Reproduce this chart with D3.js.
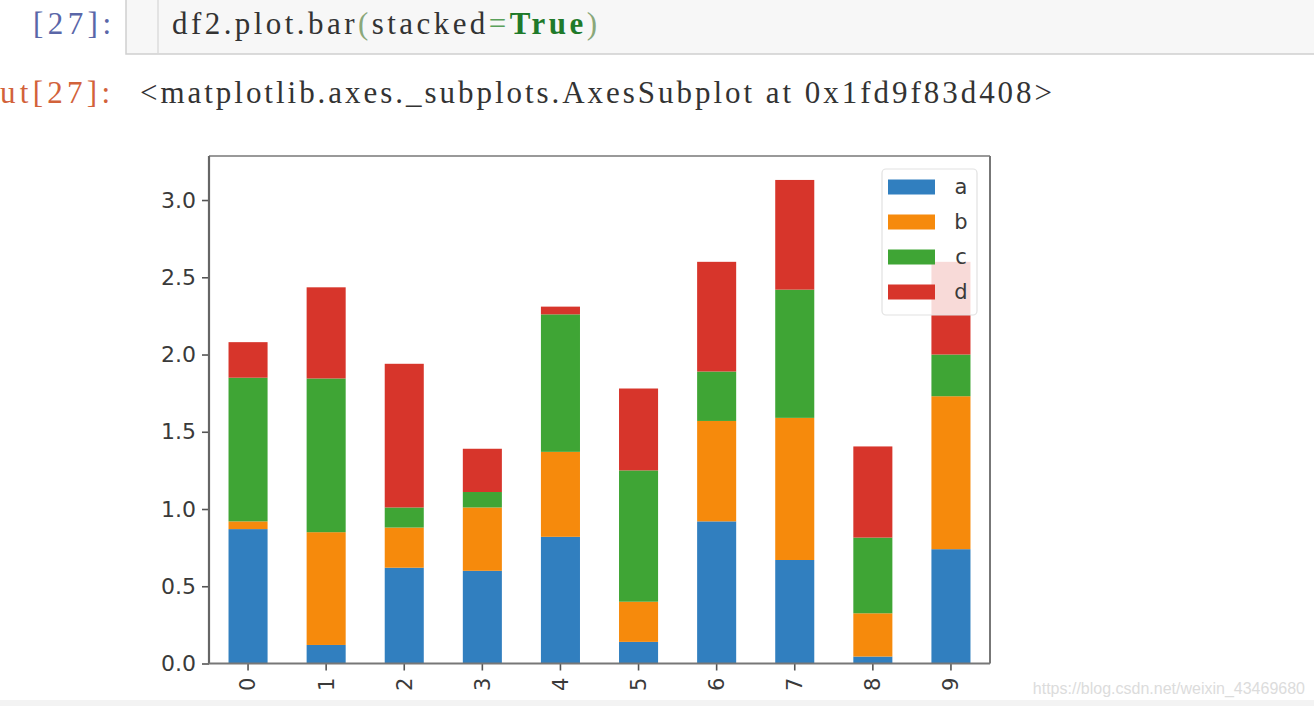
<!DOCTYPE html>
<html><head><meta charset="utf-8">
<script src="https://cdn.jsdelivr.net/npm/d3@7"></script>
<style>html,body{margin:0;padding:0;background:#fff;overflow:hidden}</style>
</head><body>
<svg id="c" width="1314" height="706"></svg>
<script>
const categories = ["0","1","2","3","4","5","6","7","8","9"];
const seriesNames = ["a","b","c","d"];
const aVals = [0.87, 0.12, 0.62, 0.60, 0.82, 0.14, 0.92, 0.67, 0.045, 0.74];
const bVals = [0.05, 0.73, 0.26, 0.41, 0.55, 0.26, 0.65, 0.92, 0.28, 0.99];
const cVals = [0.93, 0.995, 0.13, 0.10, 0.89, 0.85, 0.32, 0.83, 0.49, 0.27];
const dVals = [0.23, 0.59, 0.93, 0.28, 0.05, 0.53, 0.71, 0.71, 0.59, 0.60];
const yTicks = [0.0, 0.5, 1.0, 1.5, 2.0, 2.5, 3.0];
const colors = ["#317fbf", "#f68a0c", "#3fa535", "#d7352b"];

const rows = categories.map((k, i) => ({k, a: aVals[i], b: bVals[i], c: cVals[i], d: dVals[i]}));
const stacked = d3.stack().keys(seriesNames)(rows);

const svg = d3.select("#c");
const L = 209, R = 990, T = 156, B = 663.5;

// ---- notebook header ----
const g0 = svg.append("g");
g0.append("rect").attr("x", 126).attr("y", -4).attr("width", 1200).attr("height", 58)
  .attr("fill", "#f7f7f7").attr("stroke", "#cfcfcf").attr("stroke-width", 1.5);
g0.append("line").attr("x1", 158).attr("x2", 158).attr("y1", 0).attr("y2", 53)
  .attr("stroke", "#dcdcdc").attr("stroke-width", 1.5);
const serif = "'Liberation Serif', 'DejaVu Serif', serif";
const fs = 31;
g0.append("text").attr("x", 33).attr("y", 34).attr("font-family", serif).attr("font-size", fs)
  .attr("fill", "#5a66a8").attr("textLength", 78).attr("lengthAdjust", "spacing").text("[27]:");
const code = g0.append("text").attr("x", 172).attr("y", 34).attr("font-family", serif).attr("font-size", fs)
  .attr("textLength", 425).attr("lengthAdjust", "spacing");
code.append("tspan").attr("fill", "#333").text("df2.plot.bar");
code.append("tspan").attr("fill", "#8aa87a").text("(");
code.append("tspan").attr("fill", "#333").text("stacked");
code.append("tspan").attr("fill", "#5aa05a").text("=");
code.append("tspan").attr("fill", "#1f7a2a").attr("font-weight", "bold").text("True");
code.append("tspan").attr("fill", "#8aa87a").text(")");
g0.append("text").attr("x", 0).attr("y", 103).attr("font-family", serif).attr("font-size", fs)
  .attr("fill", "#d2623a").attr("textLength", 110).attr("lengthAdjust", "spacing").text("ut[27]:");
g0.append("text").attr("x", 140).attr("y", 103).attr("font-family", serif).attr("font-size", fs)
  .attr("fill", "#333").attr("textLength", 912).attr("lengthAdjust", "spacing")
  .text("<matplotlib.axes._subplots.AxesSubplot at 0x1fd9f83d408>");

// ---- chart ----
const x = d3.scaleBand().domain(categories).range([L, R]).paddingInner(0.5).paddingOuter(0.25);
const y = d3.scaleLinear().domain([0, 3.285]).range([B, T]);

const gb = svg.append("g");
gb.selectAll("g.s").data(stacked).join("g").attr("class", "s")
  .attr("fill", (d, i) => colors[i])
  .selectAll("rect").data(d => d).join("rect")
  .attr("x", d => x(d.data.k)).attr("width", x.bandwidth())
  .attr("y", d => y(d[1])).attr("height", d => y(d[0]) - y(d[1]));

const font = "'DejaVu Sans', sans-serif";
const yAxis = svg.append("g").attr("transform", `translate(${L},0)`)
  .call(d3.axisLeft(y).tickValues(yTicks).tickFormat(d3.format(".1f")).tickSize(7).tickPadding(6));
yAxis.select(".domain").remove();
yAxis.selectAll("line").attr("stroke", "#555").attr("stroke-width", 1.6);
yAxis.selectAll("text").attr("font-family", font).attr("font-size", 22).attr("fill", "#3a3a3a");

const xAxis = svg.append("g").attr("transform", `translate(0,${B})`)
  .call(d3.axisBottom(x).tickSize(7).tickPadding(6));
xAxis.select(".domain").remove();
xAxis.selectAll("line").attr("stroke", "#555").attr("stroke-width", 1.6);
xAxis.selectAll("text").attr("font-family", font).attr("font-size", 21).attr("fill", "#3a3a3a")
  .attr("transform", "rotate(-90)").attr("text-anchor", "end").attr("dy", "0.35em")
  .attr("x", -14).attr("y", 0);

// spines
svg.append("line").attr("x1", L).attr("x2", R).attr("y1", T).attr("y2", T).attr("stroke", "#999").attr("stroke-width", 2.2);
svg.append("line").attr("x1", R).attr("x2", R).attr("y1", T).attr("y2", B).attr("stroke", "#777").attr("stroke-width", 2);
svg.append("line").attr("x1", L).attr("x2", L).attr("y1", T).attr("y2", B).attr("stroke", "#666").attr("stroke-width", 2.2);
svg.append("line").attr("x1", L).attr("x2", R).attr("y1", B).attr("y2", B).attr("stroke", "#777").attr("stroke-width", 2.2);

// legend
const lg = svg.append("g");
lg.append("rect").attr("x", 882).attr("y", 169).attr("width", 95).attr("height", 146).attr("rx", 4)
  .attr("fill", "#fff").attr("fill-opacity", 0.82).attr("stroke", "#e2e2e2").attr("stroke-width", 1.2);
const ent = lg.selectAll("g.e").data(seriesNames).join("g").attr("class", "e")
  .attr("transform", (d, i) => `translate(888,${187 + i * 35})`);
ent.append("rect").attr("x", 0).attr("y", -7.5).attr("width", 47).attr("height", 15)
  .attr("fill", (d, i) => colors[i]);
ent.append("text").attr("x", 73).attr("y", 0).attr("dy", "0.35em").attr("font-family", font)
  .attr("font-size", 21).attr("fill", "#3a3a3a").attr("text-anchor", "middle").text(d => d);

// bottom strip & watermark
svg.append("rect").attr("x", 0).attr("y", 700).attr("width", 1314).attr("height", 6).attr("fill", "#f3f3f3");
svg.append("text").attr("x", 1305).attr("y", 694).attr("text-anchor", "end")
  .attr("font-family", "'Liberation Sans', Arial, sans-serif").attr("font-size", 16)
  .attr("fill", "#dcdcdc").text("https://blog.csdn.net/weixin_43469680");
</script>
</body></html>
